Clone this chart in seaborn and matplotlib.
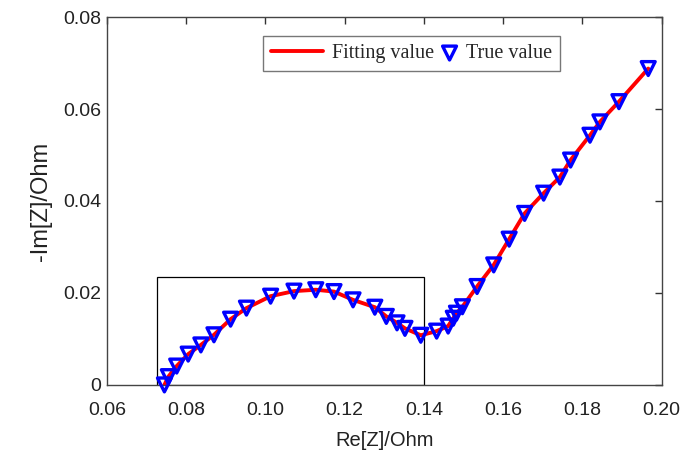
import numpy as np
import pandas as pd
import matplotlib
matplotlib.use("Agg")
import matplotlib.pyplot as plt
from matplotlib.patches import Rectangle
from matplotlib.legend_handler import HandlerPathCollection
import seaborn as sns

# Data (Nyquist plot)
re_z = [0.0745, 0.0755, 0.0776, 0.0805, 0.0837, 0.0870, 0.0912, 0.0952, 0.1013,
        0.1072, 0.1127, 0.1173, 0.1221, 0.1276, 0.1305, 0.1332, 0.1352, 0.1392,
        0.1432, 0.1461, 0.1474, 0.1482, 0.1497, 0.1534, 0.1576, 0.1615, 0.1654,
        0.1702, 0.1743, 0.1770, 0.1819, 0.1844, 0.1892, 0.1966]
im_z = [0.0000, 0.0018, 0.0041, 0.0067, 0.0087, 0.0109, 0.0143, 0.0167, 0.0193,
        0.0204, 0.0207, 0.0203, 0.0185, 0.0169, 0.0149, 0.0135, 0.0123, 0.0108,
        0.0117, 0.0128, 0.0145, 0.0156, 0.0170, 0.0214, 0.0261, 0.0317, 0.0373,
        0.0417, 0.0452, 0.0489, 0.0543, 0.0572, 0.0616, 0.0688]

x_ticks = [0.06, 0.08, 0.10, 0.12, 0.14, 0.16, 0.18, 0.20]
x_tick_labels = ["0.06", "0.08", "0.10", "0.12", "0.14", "0.16", "0.18", "0.20"]
y_ticks = [0.0, 0.02, 0.04, 0.06, 0.08]
y_tick_labels = ["0", "0.02", "0.04", "0.06", "0.08"]

df = pd.DataFrame({"re": re_z, "im": im_z})

sns.set_style("white")
plt.rcParams["font.family"] = ["Liberation Sans", "DejaVu Sans"]


class RightMarker(HandlerPathCollection):
    def get_xdata(self, legend, xdescent, ydescent, width, height, fontsize):
        xdata, _ = super().get_xdata(legend, xdescent, ydescent, width, height, fontsize)
        return xdata, [-xdescent + width - 0.35 * fontsize]


fig = plt.figure(figsize=(6.9, 4.61), dpi=100)
ax = fig.add_axes([0.155, 0.165, 0.804, 0.798])

sns.lineplot(data=df, x="re", y="im", ax=ax, color="red", linewidth=2.8,
             sort=False, label="Fitting value", estimator=None)
sns.scatterplot(data=df, x="re", y="im", ax=ax, marker="v", s=100,
                facecolor="none", edgecolor="blue", linewidth=2.4,
                label="True value", zorder=3, clip_on=False)

ax.add_patch(Rectangle((0.0726, 0.0), 0.140 - 0.0726, 0.0235, fill=False,
                       edgecolor="black", linewidth=0.9, zorder=1))

ax.set_xlim(0.06, 0.20)
ax.set_ylim(0.0, 0.08)
ax.set_xticks(x_ticks)
ax.set_xticklabels(x_tick_labels)
ax.set_yticks(y_ticks)
ax.set_yticklabels(y_tick_labels)
ax.tick_params(direction="in", length=5, width=1, top=True, right=True,
               labelsize=14, colors="#333333", labelcolor="#222222")
ax.tick_params(axis="x", pad=12)
ax.tick_params(axis="y", pad=4)
for s in ax.spines.values():
    s.set_color("#444444")
    s.set_linewidth(1.0)
ax.set_xlabel("Re[Z]/Ohm", fontsize=14.5, color="#222222", labelpad=9)
ax.set_ylabel("-Im[Z]/Ohm", fontsize=17, color="#222222", labelpad=8)

handles, labels = ax.get_legend_handles_labels()
leg = ax.legend(handles, labels, loc="upper left", bbox_to_anchor=(0.281, 0.948),
                borderaxespad=0, ncol=2,
                frameon=True, fancybox=False, edgecolor="#555555",
                prop={"family": ["Liberation Serif"], "size": 14.5},
                handlelength=2.6, columnspacing=-1.5, handletextpad=0.45,
                borderpad=0.4,
                handler_map={handles[1]: RightMarker()})
leg.get_frame().set_linewidth(1.0)

fig.savefig("out.png", dpi=100)
